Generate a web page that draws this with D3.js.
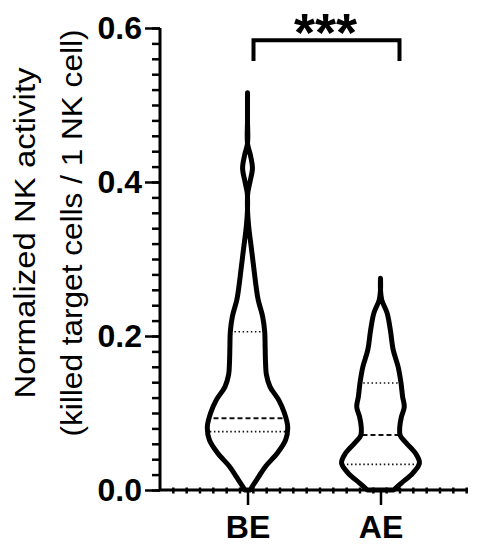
<!DOCTYPE html>
<html>
<head>
<meta charset="utf-8">
<script src="https://cdn.jsdelivr.net/npm/d3@7"></script>
<style>
  html, body { margin: 0; padding: 0; background: #fff; }
  svg { display: block; font-family: "Liberation Sans", Arial, sans-serif; }
</style>
</head>
<body>
<div id="chart"></div>
<script>
/* NK activity violin plot, BE vs AE */
const categories = ['BE', 'AE'];
const yTickValues = [0.0, 0.2, 0.4, 0.6];

// density profile: value level -> relative width (0..1)
const beLevels  = [0.000, 0.003, 0.017, 0.030, 0.048, 0.065, 0.082, 0.100, 0.117, 0.134, 0.150, 0.165, 0.185, 0.205, 0.225, 0.247, 0.264, 0.290, 0.316, 0.342, 0.365, 0.385, 0.400, 0.418, 0.435, 0.450, 0.480, 0.516];
const beDensity = [0.07,  0.10,  0.27,  0.43,  0.73,  0.93,  0.98,  0.90,  0.76,  0.55,  0.46,  0.44,  0.43,  0.42,  0.37,  0.26,  0.21,  0.15,  0.09,  0.03,  0.0,   0.005, 0.06,  0.12,  0.07,  0.0,   0.0,   0.0];
const aeLevels  = [0.000, 0.009, 0.022, 0.035, 0.048, 0.061, 0.071, 0.082, 0.095, 0.108, 0.121, 0.139, 0.160, 0.182, 0.208, 0.230, 0.247, 0.260, 0.275];
const aeDensity = [0.32,  0.51,  0.79,  0.95,  0.85,  0.63,  0.48,  0.47,  0.51,  0.58,  0.54,  0.50,  0.43,  0.31,  0.24,  0.16,  0.03,  0.0,   0.0];

// Q1, median, Q3
const beQuartiles = [0.0758, 0.0931, 0.2056];
const aeQuartiles = [0.0333, 0.0714, 0.139];
const significance = '***';

const W = 477, H = 550;
const svg = d3.select('#chart').append('svg').attr('width', W).attr('height', H);
svg.append('rect').attr('width', W).attr('height', H).attr('fill', '#fff');

const y = d3.scaleLinear().domain([0, 0.6]).range([490, 28]);
const x = d3.scalePoint().domain(categories).range([160, 468]).padding(0.658);
const w = d3.scaleLinear().domain([0, 1]).range([0, 41]);

// violins
const violins = [
    { cat: 'BE', levels: beLevels, density: beDensity, q: beQuartiles },
    { cat: 'AE', levels: aeLevels, density: aeDensity, q: aeQuartiles }
];
violins.forEach((v, i) => {
    const cx = x(v.cat);
    const pts = v.levels.map((l, j) => [l, v.density[j]]);
    const area = d3.area().curve(d3.curveCatmullRom)
        .y(d => y(d[0])).x0(d => cx - w(d[1])).x1(d => cx + w(d[1]));
    const clipId = 'clip-' + i;
    svg.append('clipPath').attr('id', clipId).append('path').datum(pts).attr('d', area);
    svg.append('path').datum(pts).attr('d', area).attr('fill', '#fff');
    const g = svg.append('g').attr('clip-path', `url(#${clipId})`);
    v.q.forEach((qv, k) => {
        g.append('line')
            .attr('x1', cx - 50).attr('x2', cx + 50)
            .attr('y1', y(qv)).attr('y2', y(qv))
            .attr('stroke', '#111')
            .attr('stroke-width', k === 1 ? 2 : 1.6)
            .attr('stroke-dasharray', k === 1 ? '5,3' : '1.5,2.6');
    });
    svg.append('path').datum(pts).attr('d', area)
        .attr('fill', 'none').attr('stroke', '#000').attr('stroke-width', 5)
        .attr('stroke-linejoin', 'round');
});

// y axis
const yAxisMinor = d3.axisLeft(y).tickValues(d3.range(0, 0.601, 0.02)).tickSize(8).tickFormat('');
const yg2 = svg.append('g').attr('transform', 'translate(160,0)').call(yAxisMinor);
yg2.select('.domain').remove();
yg2.selectAll('line').attr('stroke', '#000').attr('stroke-width', 2.5);

const yAxis = d3.axisLeft(y).tickValues(yTickValues).tickSize(15).tickPadding(3).tickFormat(d3.format('.1f'));
const yg = svg.append('g').attr('transform', 'translate(160,0)').call(yAxis);
yg.select('.domain').attr('d', `M0,${y(0.6)}V${y(0)}`).attr('stroke', '#000').attr('stroke-width', 3);
yg.selectAll('line').attr('stroke', '#000').attr('stroke-width', 2.5);
yg.selectAll('text').attr('font-size', '32px').attr('font-weight', 'bold').attr('fill', '#000')
    .attr('font-family', '"Liberation Sans", Arial, sans-serif');

// x axis
const xMinor = d3.scaleLinear().domain([0, 23.1]).range([160, 468]);
svg.append('g').selectAll('line').data(d3.range(1, 24)).enter().append('line')
    .attr('x1', d => xMinor(d)).attr('x2', d => xMinor(d))
    .attr('y1', y(0) - 2.5).attr('y2', y(0) + 3.5)
    .attr('stroke', '#000').attr('stroke-width', 2.5);

const xAxis = d3.axisBottom(x).tickSize(15).tickPadding(10);
const xg = svg.append('g').attr('transform', `translate(0,${y(0)})`).call(xAxis);
xg.select('.domain').attr('d', 'M160,0H468').attr('stroke', '#000').attr('stroke-width', 3);
xg.selectAll('line').attr('stroke', '#000').attr('stroke-width', 2.5);
xg.selectAll('text').attr('font-size', '32px').attr('font-weight', 'bold').attr('fill', '#000')
    .attr('font-family', '"Liberation Sans", Arial, sans-serif');

// y title
const title = svg.append('g').attr('transform', 'translate(0,233) rotate(-90)');
title.append('text').attr('x', 0).attr('y', 35).attr('text-anchor', 'middle')
    .attr('font-size', '29px').attr('fill', '#000')
    .attr('textLength', 331).attr('lengthAdjust', 'spacingAndGlyphs')
    .text('Normalized NK activity');
title.append('text').attr('x', 0).attr('y', 82).attr('text-anchor', 'middle')
    .attr('font-size', '29px').attr('fill', '#000')
    .attr('textLength', 407).attr('lengthAdjust', 'spacingAndGlyphs')
    .text('(killed target cells / 1 NK cell)');

// significance bracket
const bx0 = x('BE') + 6, bx1 = x('AE') + 19;
const bTop = y(0.584), bLeg = y(0.557);
svg.append('path')
    .attr('d', `M${bx0},${bLeg}V${bTop}H${bx1}V${bLeg}`)
    .attr('fill', 'none').attr('stroke', '#000').attr('stroke-width', 4);
svg.append('text').attr('x', (bx0 + bx1) / 2 - 1).attr('y', 51).attr('text-anchor', 'middle')
    .attr('font-size', '54px').attr('font-weight', 'bold').attr('fill', '#000')
    .text(significance);
</script>
</body>
</html>
